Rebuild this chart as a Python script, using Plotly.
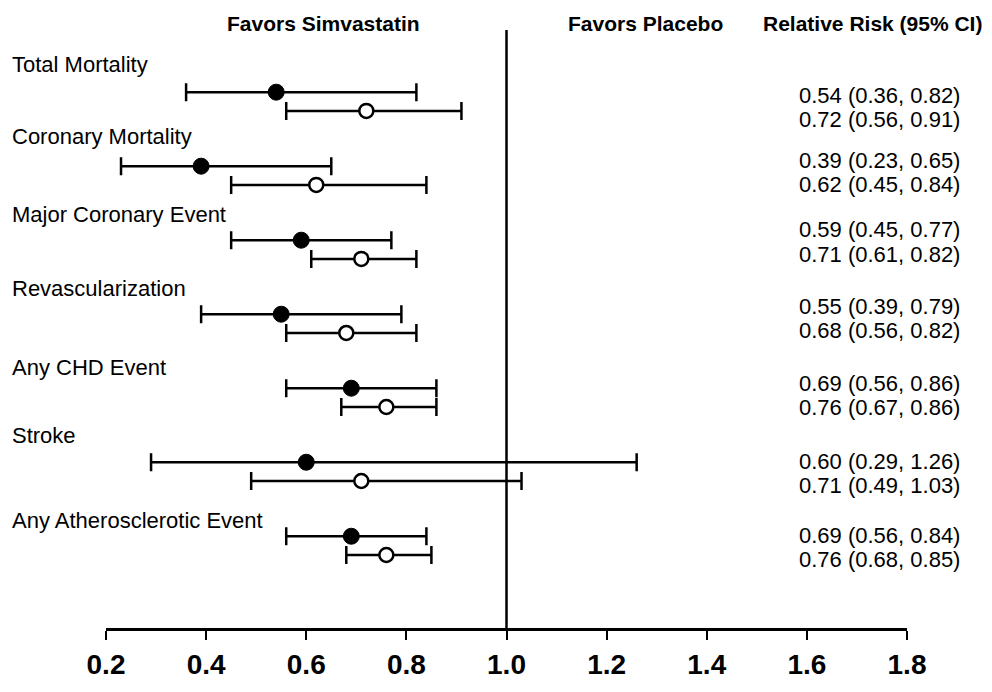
import plotly.graph_objects as go

# ---------------- data ----------------
outcomes = ["Total Mortality", "Coronary Mortality", "Major Coronary Event",
            "Revascularization", "Any CHD Event", "Stroke", "Any Atherosclerotic Event"]
rr_a = [0.54, 0.39, 0.59, 0.55, 0.69, 0.60, 0.69]
lo_a = [0.36, 0.23, 0.45, 0.39, 0.56, 0.29, 0.56]
hi_a = [0.82, 0.65, 0.77, 0.79, 0.86, 1.26, 0.84]
rr_b = [0.72, 0.62, 0.71, 0.68, 0.76, 0.71, 0.76]
lo_b = [0.56, 0.45, 0.61, 0.56, 0.67, 0.49, 0.68]
hi_b = [0.91, 0.84, 0.82, 0.82, 0.86, 1.03, 0.85]
tick_vals = [0.2, 0.4, 0.6, 0.8, 1.0, 1.2, 1.4, 1.6, 1.8]
tick_text = ["0.2", "0.4", "0.6", "0.8", "1.0", "1.2", "1.4", "1.6", "1.8"]
headers = ["Favors Simvastatin", "Favors Placebo", "Relative Risk (95% CI)"]

# ---------------- layout constants ----------------
OFF = 8                     # default body margin of the html page
PAGE_W, PAGE_H = 992, 692
W, H = PAGE_W - OFF, PAGE_H - OFF
VS = 1.0 / 0.989            # vertical correction factor

def fy(page_y):
    """target page y -> figure y"""
    return (page_y - OFF) * VS

PL, PR = 106, 907
ML, MR = PL - OFF, PAGE_W - PR
MT = fy(30)
plot_bottom = fy(636)
MB = H - plot_bottom
pw = PR - PL
ph = plot_bottom - MT
ROW = 75.0 * VS             # figure px per row
first = fy(93)
y_top = -(first - MT) / ROW
y_bot = (plot_bottom - first) / ROW
open_off = 19 / 75.0
label_off = [v / 75.0 for v in [-28, -30, -26, -26, -21, -27, -16]]
value_off = [v / 75.0 for v in [3, -6, -11, -8, -5, -1, -1]]
line_gap = 25 / 75.0

FONT = "Liberation Sans, Arial, sans-serif"

ya = list(range(len(outcomes)))
yb = [y + open_off for y in ya]

fig = go.Figure()
fig.add_trace(go.Scatter(
    x=rr_a, y=ya, mode="markers",
    marker=dict(symbol="circle", size=16, color="black", line=dict(color="black", width=1)),
    error_x=dict(type="data", symmetric=False,
                 array=[h - r for h, r in zip(hi_a, rr_a)],
                 arrayminus=[r - l for r, l in zip(rr_a, lo_a)],
                 color="black", thickness=2.5, width=9),
    showlegend=False, hoverinfo="x"))
fig.add_trace(go.Scatter(
    x=rr_b, y=yb, mode="markers",
    marker=dict(symbol="circle", size=14, color="white", line=dict(color="black", width=2.5)),
    error_x=dict(type="data", symmetric=False,
                 array=[h - r for h, r in zip(hi_b, rr_b)],
                 arrayminus=[r - l for r, l in zip(rr_b, lo_b)],
                 color="black", thickness=2.5, width=9),
    showlegend=False, hoverinfo="x"))

# vertical reference line at 1.0
fig.add_shape(type="line", xref="x", yref="paper", x0=1.0, x1=1.0, y0=0, y1=1,
              line=dict(color="black", width=2.5), layer="below")

annotations = []
for i, name in enumerate(outcomes):
    annotations.append(dict(
        text=name, xref="paper", yref="y",
        x=(10 - PL) / pw, y=ya[i] + label_off[i],
        xanchor="left", yanchor="middle", showarrow=False,
        font=dict(family=FONT, size=22, color="black")))
    for k, (r, l, h) in enumerate([(rr_a[i], lo_a[i], hi_a[i]), (rr_b[i], lo_b[i], hi_b[i])]):
        annotations.append(dict(
            text=f"{r:.2f} ({l:.2f}, {h:.2f})", xref="paper", yref="y",
            x=(962 - PL) / pw, y=ya[i] + value_off[i] + line_gap * k,
            xanchor="right", yanchor="middle", showarrow=False,
            font=dict(family=FONT, size=22, color="black")))

header_px = [323, 645, 872]
for txt, px in zip(headers, header_px):
    annotations.append(dict(
        text=f"<b>{txt}</b>", xref="paper", yref="paper",
        x=(px - PL) / pw, y=1 + (MT - fy(23)) / ph,
        xanchor="center", yanchor="middle", showarrow=False,
        font=dict(family=FONT, size=21, color="black")))

fig.update_layout(
    width=W, height=H,
    margin=dict(l=ML, r=MR, t=MT, b=MB, pad=0),
    paper_bgcolor="white", plot_bgcolor="white",
    annotations=annotations,
    xaxis=dict(range=[0.2, 1.8], tickvals=tick_vals, ticktext=tick_text,
               showgrid=False, zeroline=False,
               showline=True, linecolor="black", linewidth=3,
               ticks="outside", ticklen=9, tickwidth=2, tickcolor="black",
               tickfont=dict(family=FONT, size=28, color="black", weight="bold"),
               fixedrange=True),
    yaxis=dict(range=[y_bot, y_top], visible=False, showgrid=False, zeroline=False,
               fixedrange=True),
)

fig.write_html("out.html")
